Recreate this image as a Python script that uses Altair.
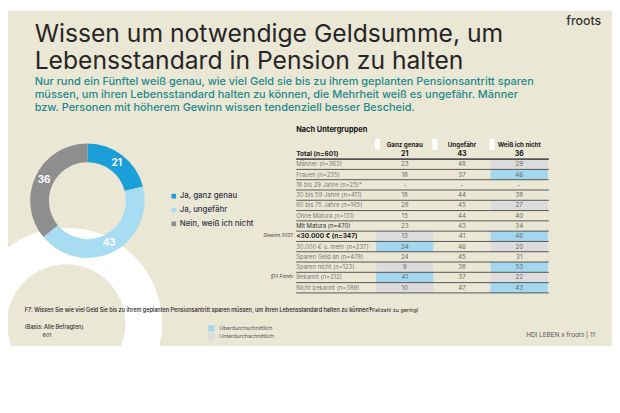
import altair as alt
import pandas as pd
import math

W, H = 612, 405
BEIGE = "#ebe7d5"
FONT = "Inter"

# ---------------- text content ----------------
title_1 = "Wissen um notwendige Geldsumme, um"
title_2 = "Lebensstandard in Pension zu halten"
sub_1 = "Nur rund ein Fünftel weiß genau, wie viel Geld sie bis zu ihrem geplanten Pensionsantritt sparen"
sub_2 = "müssen, um ihren Lebensstandard halten zu können, die Mehrheit weiß es ungefähr. Männer"
sub_3 = "bzw. Personen mit höherem Gewinn wissen tendenziell besser Bescheid."
brand = "froots"
table_title = "Nach Untergruppen"
question = "F7: Wissen Sie wie viel Geld Sie bis zu ihrem geplanten Pensionsantritt sparen müssen, um ihren Lebensstandard halten zu können?"
footnote = "*Fallzahl zu gering!"
basis = "(Basis: Alle Befragten)"
basis_n = "601"
footer = "HDI LEBEN x froots |  11"

# ---------------- donut data ----------------
donut_cats = ["Ja, ganz genau", "Ja, ungefähr", "Nein, weiß ich nicht"]
donut_vals = [21, 43, 36]
donut_colors = ["#1a9fd9", "#a8dcf3", "#8e8e8e"]

# ---------------- table data ----------------
columns = ["Ganz genau", "Ungefähr", "Weiß ich nicht"]
rows = ["Total (n=601)", "Männer (n=363)", "Frauen (n=235)", "18 bis 29 Jahre (n=25)*",
        "30 bis 59 Jahre (n=411)", "60 bis 75 Jahre (n=165)", "Ohne Matura (n=131)",
        "Mit Matura (n=470)", "<30.000 € (n=347)", "30.000 € u. mehr (n=237)",
        "Sparen Geld an (n=478)", "Sparen nicht (n=123)", "Bekannt (n=212)",
        "Nicht bekannt (n=389)"]
val_genau = ["21", "23", "18", "-", "18", "28", "15", "23", "13", "34", "24", "9", "41", "10"]
val_ungef = ["43", "48", "37", "-", "44", "45", "44", "43", "41", "46", "45", "38", "37", "47"]
val_weiss = ["36", "29", "46", "-", "38", "27", "40", "34", "46", "20", "31", "53", "22", "43"]
hl_labels = ["Überdurchschnittlich", "Unterdurchschnittlich"]
hl_colors = ["#a3d7ef", "#dcdcdc"]
hl_genau = ["", "", "", "", "", "", "", "", "Unterdurchschnittlich", "Überdurchschnittlich",
            "", "Unterdurchschnittlich", "Überdurchschnittlich", "Unterdurchschnittlich"]
hl_ungef = [""] * 14
hl_weiss = ["", "Unterdurchschnittlich", "Überdurchschnittlich", "", "", "Unterdurchschnittlich",
            "", "", "Überdurchschnittlich", "Unterdurchschnittlich", "", "Überdurchschnittlich",
            "Unterdurchschnittlich", "Überdurchschnittlich"]
group_labels = ["Gewinn 2022", "§14 Fonds"]
group_rows = ["<30.000 € (n=347)", "Bekannt (n=212)"]

# ---------------- helpers ----------------
one = pd.DataFrame({"a": [0]})


def label(text, x, y, size, color="#333333", weight="normal", align="left",
          style="normal", baseline="middle"):
    return alt.Chart(pd.DataFrame({"t": [text]})).mark_text(
        font=FONT, fontSize=size, color=color, fontWeight=weight, align=align,
        baseline=baseline, fontStyle=style
    ).encode(x=alt.value(x), y=alt.value(y), text="t:N")


# ---------------- background ----------------
bg = alt.Chart(one).mark_rect(color=BEIGE).encode(
    x=alt.value(0), x2=alt.value(W), y=alt.value(0), y2=alt.value(340))
ring = alt.Chart(one).mark_arc(radius=97, radius2=60, theta=0, theta2=2 * math.pi,
                               color="white").encode(x=alt.value(59), y=alt.value(317))
bottom = alt.Chart(one).mark_rect(color="white").encode(
    x=alt.value(0), x2=alt.value(W), y=alt.value(340), y2=alt.value(H))

# ---------------- donut ----------------
CX, CY = 80.5, 192.5
ddf = pd.DataFrame({"cat": donut_cats, "value": donut_vals})
dbase = alt.Chart(ddf).transform_window(o="row_number()")
dcolor = alt.Color("cat:N", scale=alt.Scale(domain=donut_cats, range=donut_colors), legend=None)
arcs = dbase.mark_arc(radius=58, radius2=39).encode(
    theta=alt.Theta("value:Q", stack=True), color=dcolor, order=alt.Order("o:Q"),
    x=alt.value(CX), y=alt.value(CY))
arc_txt = dbase.mark_text(radius=48.5, color="white", fontWeight="bold", fontSize=10,
                          font=FONT).encode(
    theta=alt.Theta("value:Q", stack=True), order=alt.Order("o:Q"), text="value:Q",
    x=alt.value(CX), y=alt.value(CY))
donut = alt.layer(arcs, arc_txt)

ly = alt.Y("cat:N", scale=alt.Scale(type="point", domain=donut_cats, range=[188, 216], padding=0),
           axis=None)
leg_sq = alt.Chart(ddf).mark_square(size=22, opacity=1).encode(
    x=alt.value(168), y=ly, color=dcolor)
leg_tx = alt.Chart(ddf).mark_text(align="left", baseline="middle", fontSize=8, font=FONT,
                                  color="#2e3544", fontWeight=500).encode(
    x=alt.value(174), y=ly, text="cat:N")
donut_legend = alt.layer(leg_sq, leg_tx)

# ---------------- table ----------------
recs = []
for i, r in enumerate(rows):
    for c, vals, hls in zip(columns, [val_genau, val_ungef, val_weiss], [hl_genau, hl_ungef, hl_weiss]):
        recs.append({"row": r, "col": c, "val": vals[i], "hl": hls[i]})
tdf = pd.DataFrame(recs)
rdf = pd.DataFrame({"row": rows})
cdf = pd.DataFrame({"col": columns})
gdf = pd.DataFrame({"g": group_labels, "row": group_rows})

rscale = alt.Scale(type="band", domain=rows, range=[140, 286], paddingInner=0, paddingOuter=0)
cscale = alt.Scale(type="band", domain=columns, range=[373, 547], paddingInner=0, paddingOuter=0)
hcolor = alt.Color("hl:N", scale=alt.Scale(domain=hl_labels, range=hl_colors), legend=None)
RX = alt.X("col:N", scale=cscale, axis=None)
RY = alt.Y("row:N", scale=rscale, axis=None)
is_total = alt.datum.row == rows[0]
is_bold = (alt.datum.row == rows[0]) | (alt.datum.row == rows[8])
is_dark = alt.datum.row == rows[7]

cells = alt.Chart(tdf).transform_filter(alt.datum.hl != "").mark_rect().encode(
    x=RX, y=RY, color=hcolor)
lines = alt.Chart(rdf).mark_rule(color="#555555").encode(
    y=alt.Y("row:N", scale=rscale, axis=None, bandPosition=1),
    x=alt.value(292), x2=alt.value(548),
    strokeWidth=alt.condition(is_total, alt.value(1.8), alt.value(1)))
vals_total = alt.Chart(tdf).transform_filter(is_total).mark_text(
    font=FONT, baseline="middle", fontSize=7, fontWeight="bold", color="#111111").encode(
    x=RX, y=RY, text="val:N")
vals_rest = alt.Chart(tdf).transform_filter(~is_total).mark_text(
    font=FONT, baseline="middle", fontSize=6.3, color="#6a6a6a").encode(
    x=RX, y=RY, text="val:N")
row_bold = alt.Chart(rdf).transform_filter(is_bold).mark_text(
    font=FONT, baseline="middle", align="left", fontSize=6.6, fontWeight="bold",
    color="#1a1a1a").encode(x=alt.value(292), y=RY, text="row:N")
row_dark = alt.Chart(rdf).transform_filter(is_dark).mark_text(
    font=FONT, baseline="middle", align="left", fontSize=6, color="#2a2a2a").encode(
    x=alt.value(292), y=RY, text="row:N")
row_rest = alt.Chart(rdf).transform_filter(~(is_bold | is_dark)).mark_text(
    font=FONT, baseline="middle", align="left", fontSize=6, color="#7a7a7a").encode(
    x=alt.value(292), y=RY, text="row:N")
grp_t = alt.Chart(gdf).mark_text(font=FONT, baseline="middle", align="right", fontSize=4.8,
                                 fontStyle="italic", color="#444444").encode(
    x=alt.value(289), y=RY, text="g:N")
tabs = alt.Chart(cdf).mark_rule(color="white", strokeWidth=5).encode(
    x=alt.X("col:N", scale=cscale, axis=None, bandPosition=0), xOffset=alt.value(1.5),
    y=alt.value(130), y2=alt.value(141))
head_t = alt.Chart(cdf).mark_text(font=FONT, baseline="middle", fontSize=6.3, fontWeight="bold",
                                  color="#222222").encode(
    x=RX, y=alt.value(136), text="col:N")
table = alt.layer(cells, lines, vals_total, vals_rest, row_bold, row_dark, row_rest,
                  grp_t, tabs, head_t)

# ---------------- highlight legend ----------------
hdf = pd.DataFrame({"hl": hl_labels})
hy = alt.Y("hl:N", scale=alt.Scale(type="point", domain=hl_labels, range=[322, 330], padding=0),
           axis=None)
hleg_sq = alt.Chart(hdf).mark_square(size=40, opacity=1).encode(
    x=alt.value(206), y=hy, color=hcolor)
hleg_tx = alt.Chart(hdf).mark_text(align="left", baseline="middle", fontSize=5.5, font=FONT,
                                   color="#555555").encode(
    x=alt.value(214), y=hy, text="hl:N")
hl_legend = alt.layer(hleg_sq, hleg_tx)

# ---------------- texts ----------------
TEAL = "#23898a"
texts = [
    label(title_1, 27, 31.5, 25, color="#262626", baseline="alphabetic"),
    label(title_2, 27, 59, 25, color="#262626", baseline="alphabetic"),
    label(sub_1, 27, 75.5, 11.1, color=TEAL, weight=500, baseline="alphabetic"),
    label(sub_2, 27, 88.4, 11.1, color=TEAL, weight=500, baseline="alphabetic"),
    label(sub_3, 27, 101.3, 11.1, color=TEAL, weight=500, baseline="alphabetic"),
    label(brand, 601, 11, 12.5, color="#333333", weight=500, align="right"),
    label(table_title, 292, 121, 7.5, color="#111111", weight="bold"),
    label(question, 17, 303, 5.6, color="#222222", weight=500),
    label(footnote, 366, 303, 5.5, color="#222222"),
    label(basis, 17, 321, 5.6, color="#333333", weight=500),
    label(basis_n, 35, 329, 5.5, color="#333333"),
    label(footer, 595, 329, 6.5, color="#555555", align="right"),
]

chart = alt.layer(
    bg, ring, bottom, donut, donut_legend, table, hl_legend, *texts
).resolve_scale(
    x="independent", y="independent", color="independent"
).properties(
    width=W, height=H, padding=0, background="white",
    autosize=alt.AutoSizeParams(type="none")
).configure_view(strokeWidth=0)

chart.save("out.html", embed_options={"renderer": "svg", "actions": False})
